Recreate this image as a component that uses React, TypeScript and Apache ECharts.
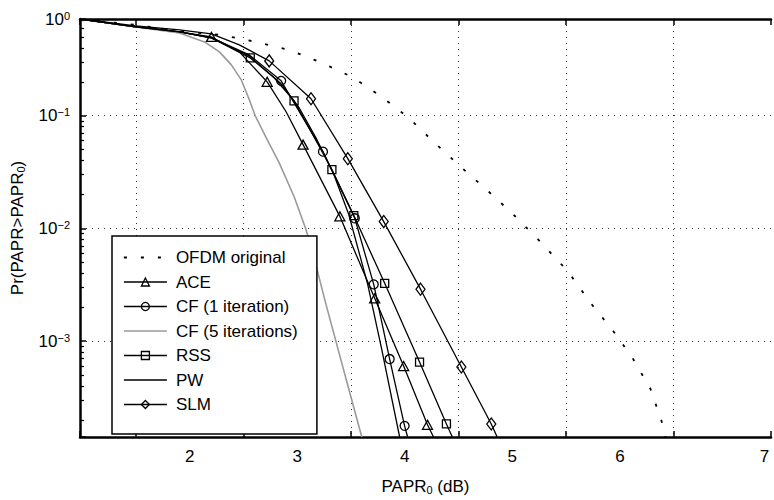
import React, { useEffect, useRef } from 'react';
import * as echarts from 'echarts';

const FONT = '"Liberation Sans", Arial, Helvetica, sans-serif';

// axis extents (dB on x, probability on y)
const X_MIN = 1.4815;
const X_MAX = 7.9074;
const Y_MIN = 1.41e-4;
const Y_MAX = 0.7217;

const xTickLabels = [2, 3, 4, 5, 6, 7];
const yTickLabels = ['10^0', '10^-1', '10^-2', '10^-3'];

const legendNames = ['OFDM original', 'ACE', 'CF (1 iteration)', 'CF (5 iterations)', 'RSS', 'PW', 'SLM'];
const noMarkerNames = ['OFDM original', 'CF (5 iterations)', 'PW'];

// OFDM original (dotted)
const ofdmX = [1.4815, 2.0, 2.481, 2.796, 3.12, 3.426, 3.731, 4.009, 4.287, 4.537, 4.778, 5.009, 5.25, 5.491, 5.741, 6.019, 6.231, 6.435, 6.62, 6.787, 6.889, 6.926];
const ofdmY = [0.7217, 0.6386, 0.5539, 0.521, 0.4516, 0.3837, 0.2944, 0.2214, 0.1473, 0.096, 0.0577, 0.0361, 0.0226, 0.0139, 0.008, 0.00416, 0.00217, 0.00125, 0.000707, 0.000376, 0.000196, 0.000141];

// ACE (triangles)
const aceX = [1.4815, 2.0, 2.407, 2.704, 2.963, 3.222, 3.398, 3.556, 3.898, 4.222, 4.491, 4.713, 4.769];
const aceY = [0.7217, 0.6132, 0.5539, 0.5001, 0.3684, 0.1999, 0.1085, 0.0554, 0.0128, 0.0024, 0.000601, 0.000181, 0.000141];
const aceMarks = [0, 0, 0, 1, 0, 1, 0, 1, 1, 1, 1, 1, 0];

// CF, 1 iteration (circles)
const cf1X = [1.4815, 2.0, 2.407, 2.704, 3.056, 3.352, 3.741, 4.037, 4.213, 4.361, 4.5, 4.528];
const cf1Y = [0.7217, 0.6132, 0.5539, 0.49, 0.3466, 0.204, 0.048, 0.0123, 0.00319, 0.000693, 0.000177, 0.000141];
const cf1Marks = [0, 0, 0, 0, 0, 1, 1, 1, 1, 1, 1, 0];

// CF, 5 iterations (grey)
const cf5X = [1.4815, 2.0, 2.407, 2.639, 2.778, 2.889, 2.981, 3.056, 3.111, 3.222, 3.333, 3.472, 3.583, 3.657, 3.769, 3.861, 3.981, 4.102];
const cf5Y = [0.7217, 0.6132, 0.5427, 0.4516, 0.3684, 0.2827, 0.2083, 0.1385, 0.1, 0.0613, 0.0384, 0.0192, 0.0098, 0.00554, 0.00212, 0.001, 0.000376, 0.000141];

// RSS (squares)
const rssX = [1.4815, 2.0, 2.407, 2.704, 3.065, 3.287, 3.472, 3.824, 4.028, 4.315, 4.639, 4.889, 4.944];
const rssY = [0.7217, 0.6132, 0.5539, 0.49, 0.3259, 0.2169, 0.1357, 0.0333, 0.013, 0.00326, 0.000652, 0.000184, 0.000141];
const rssMarks = [0, 0, 0, 0, 1, 0, 1, 1, 1, 1, 1, 1, 0];

// PW (plain line)
const pwX = [1.4815, 2.0, 2.407, 2.704, 3.056, 3.352, 3.519, 3.685, 3.843, 3.981, 4.157, 4.287, 4.454];
const pwY = [0.7217, 0.6132, 0.5539, 0.49, 0.3396, 0.1919, 0.1177, 0.0613, 0.03, 0.0133, 0.00319, 0.00085, 0.000141];

// SLM (diamonds)
const slmX = [1.4815, 2.0, 2.407, 2.704, 2.963, 3.241, 3.63, 3.972, 4.306, 4.648, 5.028, 5.306, 5.361];
const slmY = [0.7217, 0.6258, 0.577, 0.5317, 0.4248, 0.3067, 0.1414, 0.0416, 0.0115, 0.00289, 0.000589, 0.000184, 0.000141];
const slmMarks = [0, 0, 0, 0, 0, 1, 1, 1, 1, 1, 1, 1, 0];

function build(xs: number[], ys: number[], marks?: number[]) {
  return xs.map((x, i) =>
    marks && marks[i] ? [x, ys[i]] : { value: [x, ys[i]], symbol: 'none' }
  );
}

function yLabel(v: number): string {
  if (v < 2e-4) return '';
  let idx: number;
  if (v > 0.5) idx = 0;
  else idx = Math.round(-Math.log10(v));
  const t = yTickLabels[idx];
  if (!t) return '';
  const exp = t.split('^')[1].replace('-', '\u2212');
  return '{m|10}{s|' + exp + '}';
}

function xLabel(v: number): string {
  const r = Math.round(v);
  if (Math.abs(v - r) > 1e-6 || xTickLabels.indexOf(r) < 0) return '';
  if (r === 7) return '{far|7}';
  return String(r);
}

export default function App() {
  const ref = useRef<HTMLDivElement>(null);

  useEffect(() => {
    if (!ref.current) return;
    const chart = echarts.init(ref.current, null, { renderer: 'svg' });

    const black = '#000';
    const markerStyle = { color: 'rgba(0,0,0,0)', borderColor: black, borderWidth: 1.3 };
    const lineBlack = { color: black, width: 1.3 };
    const common = { type: 'line', smooth: false, xAxisIndex: 0, yAxisIndex: 0 };

    const series: any[] = [
      { ...common, name: 'OFDM original', data: build(ofdmX, ofdmY), symbol: 'none', z: 3,
        lineStyle: { color: black, width: 1.8, type: [3, 14], cap: 'butt' } },
      { ...common, name: 'ACE', data: build(aceX, aceY, aceMarks), symbol: 'triangle', symbolSize: [10, 9],
        itemStyle: markerStyle, lineStyle: lineBlack },
      { ...common, name: 'CF (1 iteration)', data: build(cf1X, cf1Y, cf1Marks), symbol: 'circle', symbolSize: 9,
        itemStyle: markerStyle, lineStyle: lineBlack },
      { ...common, name: 'CF (5 iterations)', data: build(cf5X, cf5Y), symbol: 'none',
        lineStyle: { color: '#9a9a9a', width: 1.6 } },
      { ...common, name: 'RSS', data: build(rssX, rssY, rssMarks), symbol: 'rect', symbolSize: 8,
        itemStyle: markerStyle, lineStyle: lineBlack },
      { ...common, name: 'PW', data: build(pwX, pwY), symbol: 'none', lineStyle: lineBlack },
      { ...common, name: 'SLM', data: build(slmX, slmY, slmMarks), symbol: 'diamond', symbolSize: [9, 12],
        itemStyle: markerStyle, lineStyle: lineBlack },
    ];

    const gridDots = { color: '#333', type: [1, 5], width: 1 };

    chart.setOption({
      animation: false,
      backgroundColor: '#fff',
      textStyle: { fontFamily: FONT },
      grid: { left: 80, right: 0, top: 19, bottom: 62, containLabel: false },
      xAxis: [
        {
          type: 'value', min: X_MIN, max: X_MAX, minInterval: 1, maxInterval: 1,
          position: 'bottom',
          axisLine: { show: true, onZero: false, lineStyle: { color: black, width: 2.5 } },
          axisTick: { show: true, inside: true, length: 6, lineStyle: { color: black, width: 1.5 } },
          splitLine: { show: true, showMinLine: false, showMaxLine: false, lineStyle: gridDots },
          axisLabel: {
            formatter: xLabel, margin: 10, color: black, fontSize: 17, fontFamily: FONT,
            padding: [0, 0, 0, 108], lineHeight: 18,
            rich: { far: { padding: [0, 0, 0, 74], fontSize: 17, fontFamily: FONT, color: black, lineHeight: 18 } },
          },
          name: 'PAPR{sub|0} (dB)', nameLocation: 'middle', nameGap: 40,
          nameTextStyle: {
            fontSize: 17, color: black, fontFamily: FONT, lineHeight: 18,
            rich: { sub: { fontSize: 11, lineHeight: 4, verticalAlign: 'bottom', fontFamily: FONT, color: black } },
          },
        },
        {
          type: 'value', min: X_MIN, max: X_MAX, minInterval: 1, maxInterval: 1,
          position: 'top',
          axisLine: { show: true, onZero: false, lineStyle: { color: black, width: 2.5 } },
          axisTick: { show: true, inside: true, length: 6, lineStyle: { color: black, width: 1.5 } },
          splitLine: { show: false },
          axisLabel: { show: false },
        },
      ],
      yAxis: [
        {
          type: 'log', logBase: 10, min: Y_MIN, max: Y_MAX,
          axisLine: { show: true, onZero: false, lineStyle: { color: black, width: 2.5 } },
          axisTick: { show: true, inside: true, length: 6, lineStyle: { color: black, width: 1.5 } },
          minorTick: { show: true, splitNumber: 9, length: 4, lineStyle: { color: black, width: 1.2 } },
          splitLine: { show: true, showMinLine: false, showMaxLine: false, lineStyle: gridDots },
          axisLabel: {
            formatter: yLabel, margin: 10, color: black, fontSize: 17, fontFamily: FONT,
            showMinLabel: true, showMaxLabel: true,
            rich: {
              m: { fontSize: 17, lineHeight: 18, fontFamily: FONT, color: black },
              s: { fontSize: 11, lineHeight: 6, verticalAlign: 'top', fontFamily: FONT, color: black },
            },
          },
          name: 'Pr(PAPR>PAPR{sub|0})', nameLocation: 'middle', nameGap: 54, nameRotate: 90,
          nameTextStyle: {
            fontSize: 17, color: black, fontFamily: FONT, lineHeight: 18,
            rich: { sub: { fontSize: 11, lineHeight: 4, verticalAlign: 'bottom', fontFamily: FONT, color: black } },
          },
        },
      ],
      legend: {
        orient: 'vertical', left: 112, top: 236,
        itemWidth: 43, itemHeight: 10, itemGap: 7.5,
        padding: [13, 6, 21, 11],
        backgroundColor: '#fff', borderColor: black, borderWidth: 1.5, borderRadius: 0,
        selectedMode: false,
        itemStyle: { borderWidth: 'inherit' },
        lineStyle: { width: 'inherit' },
        textStyle: { fontFamily: FONT, fontSize: 17, color: black, lineHeight: 17, width: 135, padding: [0, 0, 0, 4] },
        data: legendNames.map((n) =>
          noMarkerNames.indexOf(n) >= 0 ? { name: n, itemStyle: { opacity: 0 } } : { name: n }
        ),
      },
      series,
    });

    return () => chart.dispose();
  }, []);

  return (
    <div
      ref={ref}
      style={{ position: 'fixed', left: 0, top: 0, width: 774, height: 500, background: '#fff' }}
    />
  );
}
